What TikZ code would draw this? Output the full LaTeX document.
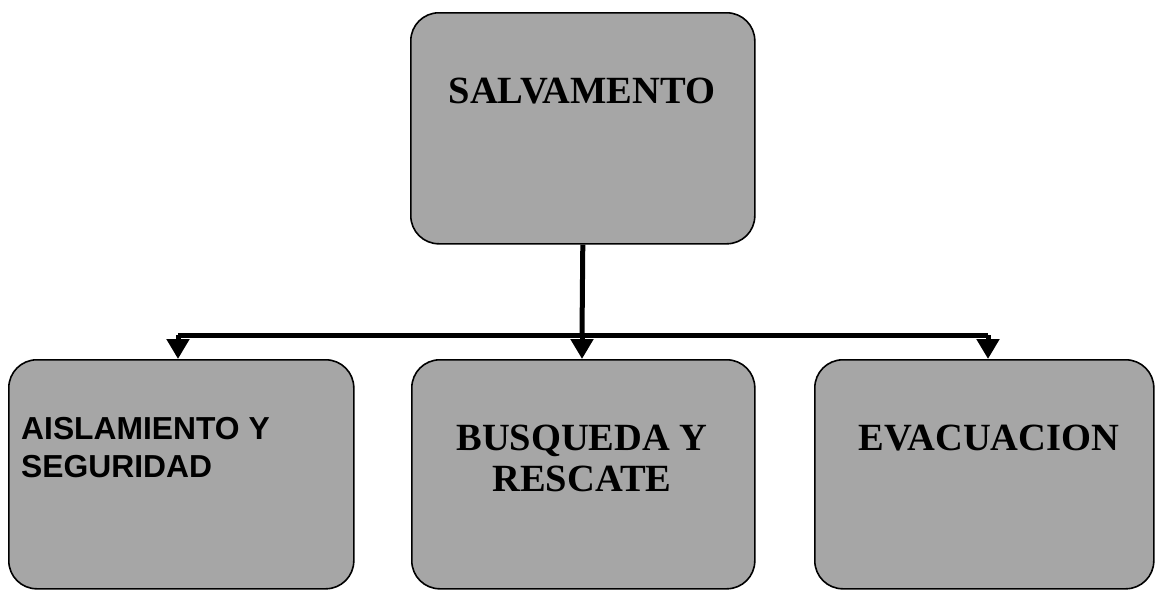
\documentclass[tikz,border=0pt]{standalone}
\usepackage{fontspec}
\setmainfont{Liberation Serif}
\newfontfamily\arialf{Liberation Sans}
\usetikzlibrary{arrows.meta}
\definecolor{boxgray}{RGB}{166,166,166}
\begin{document}
\begin{tikzpicture}[x=1pt,y=-1pt,
  box/.style={draw=black,line width=1.6pt,fill=boxgray,rounded corners=28pt,
    inner sep=0pt,anchor=north west},
  serift/.style={font=\fontsize{38.5}{42}\selectfont\bfseries,anchor=base,inner sep=0pt},
  sanst/.style={font=\arialf\fontsize{31.8}{36}\selectfont\bfseries,anchor=base west,inner sep=0pt},
  conn/.style={line width=5pt},
  arr/.style={line width=5pt,-{Triangle[length=20pt,width=22pt]}}]
\useasboundingbox (0,0) rectangle (1156,589);
% boxes
\node[box,minimum width=344pt,minimum height=231pt] (top) at (410,12) {};
\node[box,minimum width=345pt,minimum height=229pt] (left) at (8,359) {};
\node[box,minimum width=343pt,minimum height=229pt] (mid) at (411,359) {};
\node[box,minimum width=339pt,minimum height=229pt] (right) at (814,359) {};
% texts
\node[serift] (t0) at (582,103) {SALVAMENTO};
\node[sanst] (t1a) at (21,439) {AISLAMIENTO Y};
\node[sanst] (t1b) at (21,477) {SEGURIDAD};
\node[serift] (t2a) at (582,450) {BUSQUEDA Y};
\node[serift] (t2b) at (582,491) {RESCATE};
\node[serift] (t3) at (989,450) {EVACUACION};
% connectors
\coordinate (jL) at (178,335);
\coordinate (jM) at (582,335);
\coordinate (jR) at (988,335);
\draw[conn] (top.south) -- (jM);
\draw[conn] (jL) -- (jR);
\draw[arr] (jL) -- (jL |- left.north);
\draw[arr] (jM) -- (jM |- mid.north);
\draw[arr] (jR) -- (jR |- right.north);
\end{tikzpicture}
\end{document}
